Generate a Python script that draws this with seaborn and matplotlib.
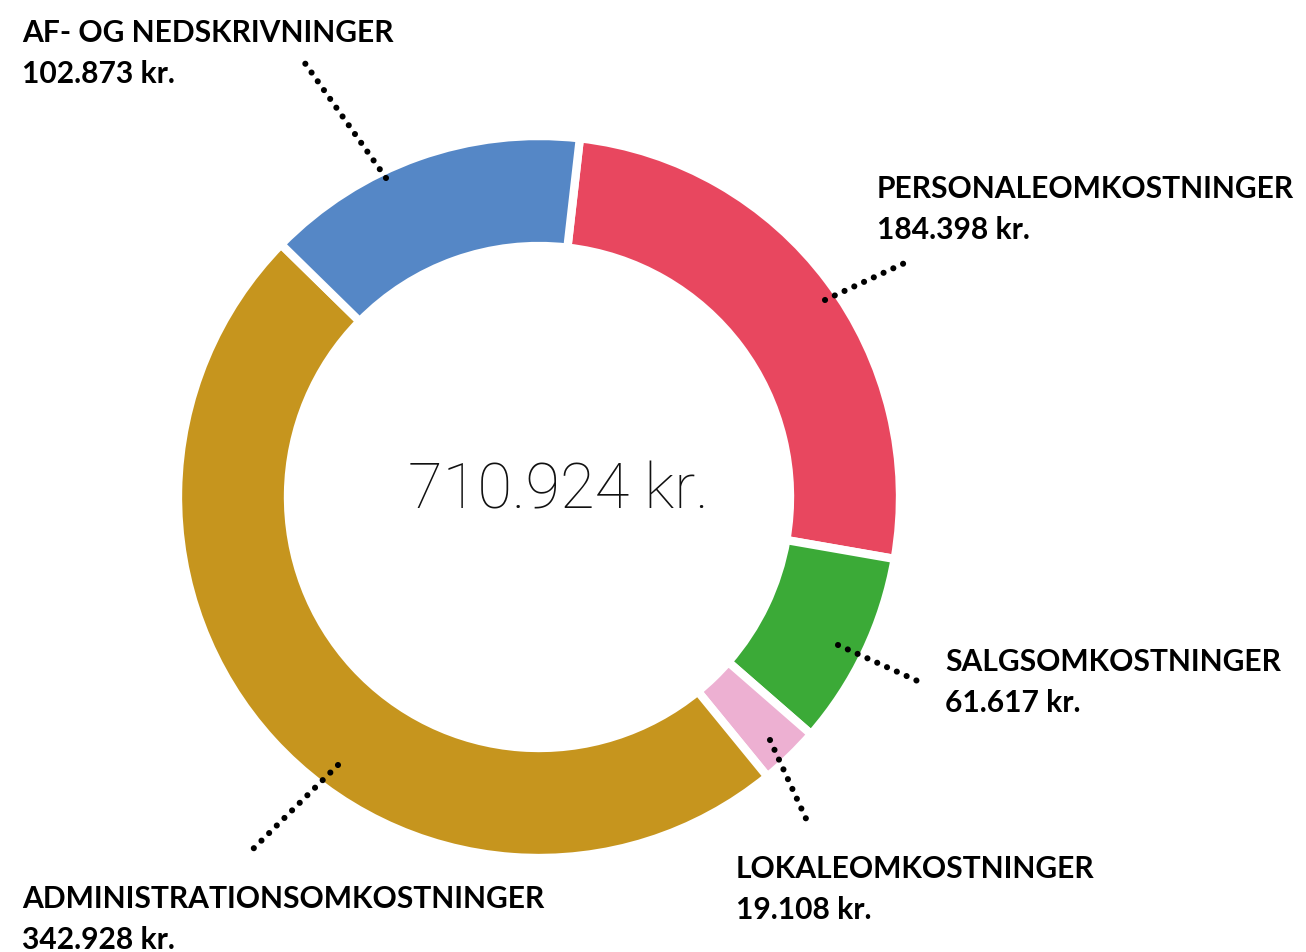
import numpy as np
import seaborn as sns
import matplotlib.pyplot as plt

# cost breakdown (kr.), clockwise from the top
categories = ['PERSONALEOMKOSTNINGER', 'SALGSOMKOSTNINGER', 'LOKALEOMKOSTNINGER',
              'ADMINISTRATIONSOMKOSTNINGER', 'AF- OG NEDSKRIVNINGER']
values = [184398, 61617, 19108, 342928, 102873]
colors = ['#E8475F', '#3BAA37', '#EDB0D2', '#C6951E', '#5587C6']


def fmt_kr(v):
    return '{:,}'.format(v).replace(',', '.') + ' kr.'


sns.set_theme(style='white')
plt.rcParams['font.family'] = ['Lato', 'DejaVu Sans']

W, H = 1306, 952
fig = plt.figure(figsize=(W / 100, H / 100), dpi=100)
ax = fig.add_axes([0, 0, 1, 1])

cx, cy = 539, H - 497
ax.pie(values, colors=colors, startangle=83.5, counterclock=False,
       center=(cx, cy), radius=361, frame=True,
       wedgeprops=dict(width=110, edgecolor='white', linewidth=6))
ax.set_xlim(0, W)
ax.set_ylim(0, H)
ax.set_aspect('equal')
ax.axis('off')

total = sum(values)
ax.text(cx + 19, cy + 6, fmt_kr(total), ha='center', va='center',
        fontsize=45.5, fontweight='light', family=['Roboto', 'DejaVu Sans'],
        color='#111111')

# leader lines (pixel coords, y from top) and label anchors
leaders = {
    'PERSONALEOMKOSTNINGER': ((825, 300), (909, 261)),
    'SALGSOMKOSTNINGER': ((838, 645), (922, 683)),
    'LOKALEOMKOSTNINGER': ((770, 740), (808, 823)),
    'ADMINISTRATIONSOMKOSTNINGER': ((338, 765), (253, 849)),
    'AF- OG NEDSKRIVNINGER': ((386, 178), (302, 59)),
}
anchors = {
    'PERSONALEOMKOSTNINGER': (877, 175),
    'SALGSOMKOSTNINGER': (945, 648),
    'LOKALEOMKOSTNINGER': (736, 855),
    'ADMINISTRATIONSOMKOSTNINGER': (22, 885),
    'AF- OG NEDSKRIVNINGER': (22, 19),
}

for name, v in zip(categories, values):
    (x0, y0), (x1, y1) = leaders[name]
    ax.plot([x0, x1], [H - y0, H - y1], color='black', lw=4.4,
            ls=(0, (0.01, 1.75)), dash_capstyle='round')
    tx, ty = anchors[name]
    ax.text(tx, H - ty, name, ha='left', va='top', fontsize=21.6,
            fontweight='bold', color='black')
    ax.text(tx, H - ty - 41, fmt_kr(v), ha='left', va='top', fontsize=21.6,
            fontweight='bold', color='black')

fig.savefig('out.png', dpi=100, facecolor='white')
